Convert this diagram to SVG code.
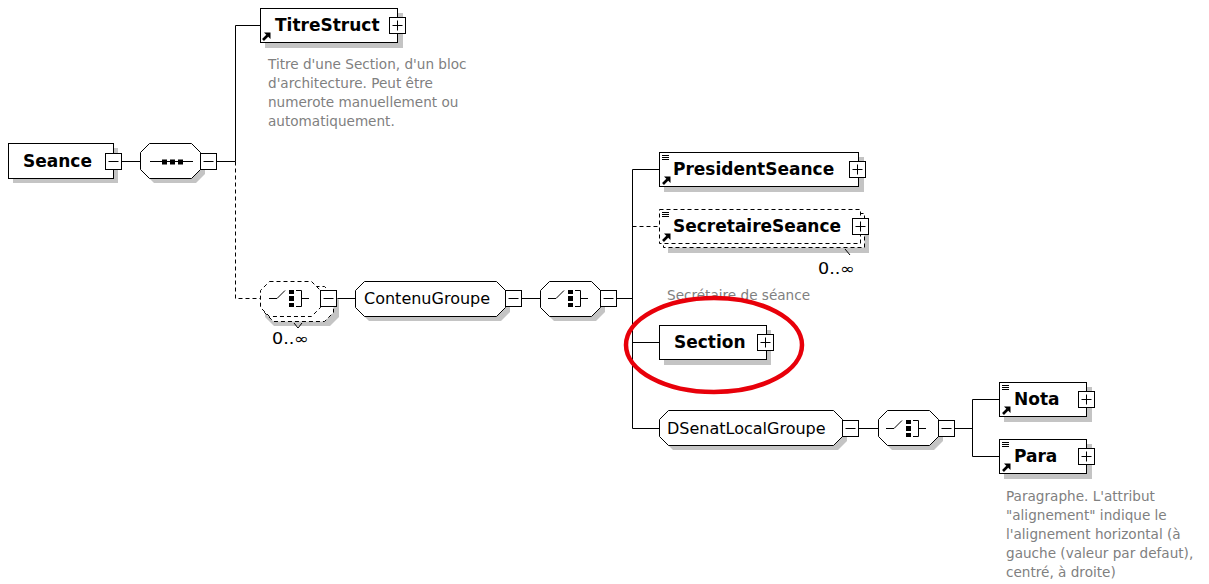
<svg xmlns="http://www.w3.org/2000/svg" xmlns:xlink="http://www.w3.org/1999/xlink" width="1209" height="584" viewBox="0 0 1209 584">
<style>
.box{fill:#fff;stroke:#000;stroke-width:1}
.dbox{fill:#fff;stroke:#000;stroke-width:1;stroke-dasharray:4 3}
.sh{fill:#c4c4c4;stroke:none}
.b{font-family:"DejaVu Sans",Verdana,sans-serif;font-weight:bold;font-size:17px;fill:#000}
.n{font-family:"DejaVu Sans",Verdana,sans-serif;font-size:16px;fill:#000}
.d{font-family:"DejaVu Sans",Verdana,sans-serif;font-size:13.6px;fill:#808080}
.m{font-family:"DejaVu Sans",Verdana,sans-serif;font-size:15px;fill:#000}
.ln{fill:none;stroke:#000;stroke-width:1}
.dl{fill:none;stroke:#000;stroke-width:1;stroke-dasharray:4 3}
</style>
<defs>
<g id="minus"><rect x="0.5" y="0.5" width="16" height="16" class="box"/><path d="M3.5,8.5H13.5" class="ln"/></g>
<g id="plus"><rect x="0.5" y="0.5" width="16" height="16" class="box"/><path d="M3.5,8.5H13.5M8.5,3.5V13.5" class="ln"/></g>
<g id="seqicon"><path d="M-21,0.5H22" class="ln"/><rect x="-9" y="-1.5" width="5" height="5"/><rect x="-1" y="-1.5" width="5" height="5"/><rect x="7" y="-1.5" width="5" height="5"/></g>
<g id="choiceicon"><path d="M-23,0.5H-15L-7,-7.5" class="ln" stroke-width="1.3"/><rect x="-3" y="-8" width="5" height="4"/><rect x="-3" y="-2" width="5" height="5"/><rect x="-3" y="5" width="5" height="4"/><path d="M4,-7.5H9.5V8.5H4M9.5,0.5H17" class="ln" stroke-width="1.3"/></g>
<g id="arrow"><path d="M1,8L5.5,3.5" stroke="#000" stroke-width="2.6"/><path d="M2,0.5H8.5V7Z" fill="#000"/></g>
<g id="lines"><path d="M0,0.5H7M0,2.5H7M0,4.5H7" stroke="#000" stroke-width="1"/></g>
</defs>

<g id="connectors">
<path d="M121,161.5H140" class="ln"/>
<path d="M217,161.5H235.5V25.5H260" class="ln"/>
<path d="M235.5,161.5V298.5H260" class="dl"/>
<path d="M337,298.5H355" class="ln"/>
<path d="M522,298.5H540" class="ln"/>
<path d="M617,298.5H632.5M632.5,169.5V428.5M632.5,169.5H659M632.5,342.5H659M632.5,428.5H659" class="ln"/>
<path d="M632.5,226.5H659" class="dl"/>
<path d="M859,428.5H878" class="ln"/>
<path d="M955,428.5H972.5M972.5,399.5V456.5M972.5,399.5H999M972.5,456.5H999" class="ln"/>
</g>

<g id="Seance">
<rect x="13" y="148" width="105" height="35" class="sh"/>
<rect x="8.5" y="143.5" width="105" height="35" class="box"/>
<text x="23" y="167" class="b">Seance</text>
<use xlink:href="#minus" x="105" y="153"/>
</g>

<g id="sequence">
<path d="M154,148H196L205,157V174L196,183H154L145,174V157Z" class="sh"/>
<path d="M149.5,143.5H191.5L200.5,152.5V169.5L191.5,178.5H149.5L140.5,169.5V152.5Z" class="box"/>
<use xlink:href="#seqicon" x="171" y="161"/>
<use xlink:href="#minus" x="200" y="153"/>
</g>

<g id="TitreStruct">
<rect x="265" y="13" width="138" height="35" class="sh"/>
<rect x="260.5" y="8.5" width="137" height="34" class="box"/>
<use xlink:href="#arrow" x="262" y="32"/>
<text x="275" y="31" class="b">TitreStruct</text>
<use xlink:href="#plus" x="389" y="17"/>
<text class="d"><tspan x="268" y="69">Titre d'une Section, d'un bloc</tspan><tspan x="268" y="88">d'architecture. Peut être</tspan><tspan x="268" y="107">numerote manuellement ou</tspan><tspan x="268" y="126">automatiquement.</tspan></text>
</g>

<g id="choice1">
<path d="M274,291H330L339,300V317L330,326H274L265,317V300Z" class="sh"/>
<path d="M273.5,286.5H324.5L333.5,295.5V312.5L324.5,321.5H273.5L264.5,312.5V295.5Z" class="dbox"/>
<path d="M269.5,281.5H311.5L320.5,290.5V307.5L311.5,316.5H269.5L260.5,307.5V290.5Z" class="dbox"/>
<use xlink:href="#choiceicon" x="292" y="298"/>
<use xlink:href="#minus" x="320" y="290"/>
<path d="M294,323L298,328L302,323" class="ln"/>
<text x="272" y="344" class="m" textLength="37" lengthAdjust="spacingAndGlyphs">0..∞</text>
</g>

<g id="ContenuGroupe">
<path d="M369,286H501L510,295V312L501,321H369L360,312V295Z" class="sh"/>
<path d="M364.5,281.5H496.5L505.5,290.5V307.5L496.5,316.5H364.5L355.5,307.5V290.5Z" class="box"/>
<text x="364" y="304" class="n">ContenuGroupe</text>
<use xlink:href="#minus" x="505" y="290"/>
</g>

<g id="choice2">
<path d="M554,286H596L605,295V312L596,321H554L545,312V295Z" class="sh"/>
<path d="M549.5,281.5H591.5L600.5,290.5V307.5L591.5,316.5H549.5L540.5,307.5V290.5Z" class="box"/>
<use xlink:href="#choiceicon" x="571" y="298"/>
<use xlink:href="#minus" x="600" y="290"/>
</g>

<g id="PresidentSeance">
<rect x="664" y="157" width="200" height="35" class="sh"/>
<rect x="659.5" y="152.5" width="199" height="34" class="box"/>
<use xlink:href="#lines" x="662" y="155"/>
<use xlink:href="#arrow" x="662" y="176"/>
<text x="673" y="175" class="b">PresidentSeance</text>
<use xlink:href="#plus" x="849" y="161"/>
</g>

<g id="SecretaireSeance">
<rect x="668" y="218" width="201" height="35" class="sh"/>
<rect x="663.5" y="213.5" width="201" height="34" class="dbox"/>
<rect x="659.5" y="209.5" width="201" height="34" class="dbox"/>
<use xlink:href="#lines" x="662" y="212"/>
<use xlink:href="#arrow" x="662" y="233"/>
<text x="673" y="232" class="b">SecretaireSeance</text>
<use xlink:href="#plus" x="852" y="218"/>
<path d="M845,249L850,255" class="ln"/>
<text x="818" y="274" class="m" textLength="37" lengthAdjust="spacingAndGlyphs">0..∞</text>
<text x="667" y="300" class="d">Secrétaire de séance</text>
</g>

<g id="Section">
<rect x="664" y="330" width="107" height="35" class="sh"/>
<rect x="659.5" y="325.5" width="107" height="34" class="box"/>
<text x="674" y="348" class="b">Section</text>
<use xlink:href="#plus" x="757" y="334"/>
</g>

<g id="DSenatLocalGroupe">
<path d="M673,415H838L847,424V441L838,450H673L664,441V424Z" class="sh"/>
<path d="M668.5,410.5H833.5L842.5,419.5V436.5L833.5,445.5H668.5L659.5,436.5V419.5Z" class="box"/>
<text x="667" y="434" class="n">DSenatLocalGroupe</text>
<use xlink:href="#minus" x="842" y="420"/>
</g>

<g id="choice3">
<path d="M892,415H934L943,424V441L934,450H892L883,441V424Z" class="sh"/>
<path d="M887.5,410.5H929.5L938.5,419.5V436.5L929.5,445.5H887.5L878.5,436.5V419.5Z" class="box"/>
<use xlink:href="#choiceicon" x="909" y="428"/>
<use xlink:href="#minus" x="938" y="420"/>
</g>

<g id="Nota">
<rect x="1004" y="387" width="88" height="35" class="sh"/>
<rect x="999.5" y="382.5" width="87" height="34" class="box"/>
<use xlink:href="#lines" x="1002" y="385"/>
<use xlink:href="#arrow" x="1002" y="406"/>
<text x="1014" y="405" class="b">Nota</text>
<use xlink:href="#plus" x="1078" y="391"/>
</g>

<g id="Para">
<rect x="1004" y="444" width="88" height="35" class="sh"/>
<rect x="999.5" y="439.5" width="87" height="34" class="box"/>
<use xlink:href="#lines" x="1002" y="442"/>
<use xlink:href="#arrow" x="1002" y="463"/>
<text x="1014" y="462" class="b">Para</text>
<use xlink:href="#plus" x="1078" y="448"/>
<text class="d"><tspan x="1006" y="501">Paragraphe. L'attribut</tspan><tspan x="1006" y="520">"alignement" indique le</tspan><tspan x="1006" y="539">l'alignement horizontal (à</tspan><tspan x="1006" y="558">gauche (valeur par defaut),</tspan><tspan x="1006" y="577">centré, à droite)</tspan></text>
</g>

<g id="highlight">
<ellipse cx="714" cy="345" rx="88" ry="47" fill="none" stroke="#e8000a" stroke-width="4.5"/>
</g>
</svg>
